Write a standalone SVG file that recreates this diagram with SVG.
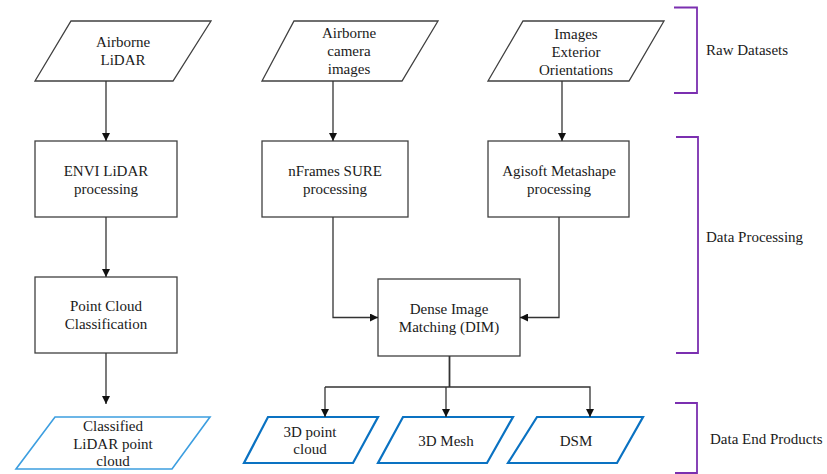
<svg xmlns="http://www.w3.org/2000/svg" width="827" height="474" viewBox="0 0 827 474">
<style>
  text { fill: #1a1a1a; text-anchor: middle; font-size: 15px; }
  .lbl { text-anchor: start; }
  .box { fill: #ffffff; stroke: #404040; stroke-width: 1.3; }
  .out1 { fill: #ffffff; stroke: #3c9ee0; stroke-width: 1.6; }
  .out2 { fill: #ffffff; stroke: #0a72c2; stroke-width: 2.2; }
  .con { fill: none; stroke: #333333; stroke-width: 1.3; }
  .br { fill: none; stroke: #7b2fb0; stroke-width: 1.8; }
</style>
<defs>
  <marker id="ah" markerUnits="userSpaceOnUse" markerWidth="8" markerHeight="8" viewBox="0 0 8 8" refX="8" refY="4" orient="auto">
    <path d="M0,0 L8,4 L0,8 Z" fill="#111111"/>
  </marker>
</defs>

<g id="raw-lidar">
  <polygon class="box" points="71,21 211,21 173,81 35,81"/>
  <text style="font-family:'Liberation Serif',serif !important" x="123" y="47">Airborne</text>
  <text style="font-family:'Liberation Serif',serif !important" x="123" y="65">LiDAR</text>
</g>
<g id="raw-camera">
  <polygon class="box" points="294,21 438,21 402,81 262,81"/>
  <text style="font-family:'Liberation Serif',serif !important" x="349" y="38">Airborne</text>
  <text style="font-family:'Liberation Serif',serif !important" x="349" y="56">camera</text>
  <text style="font-family:'Liberation Serif',serif !important" x="349" y="74">images</text>
</g>
<g id="raw-eo">
  <polygon class="box" points="523,21 664,21 629,81 488,81"/>
  <text style="font-family:'Liberation Serif',serif !important" x="576" y="39">Images</text>
  <text style="font-family:'Liberation Serif',serif !important" x="576" y="57">Exterior</text>
  <text style="font-family:'Liberation Serif',serif !important" x="576" y="75">Orientations</text>
</g>

<g id="envi">
  <rect class="box" x="35" y="141" width="142" height="76"/>
  <text style="font-family:'Liberation Serif',serif !important" x="106" y="176">ENVI LiDAR</text>
  <text style="font-family:'Liberation Serif',serif !important" x="106" y="194">processing</text>
</g>
<g id="sure">
  <rect class="box" x="262" y="141" width="146" height="76"/>
  <text style="font-family:'Liberation Serif',serif !important" x="335" y="176">nFrames SURE</text>
  <text style="font-family:'Liberation Serif',serif !important" x="335" y="194">processing</text>
</g>
<g id="metashape">
  <rect class="box" x="488" y="141" width="141" height="76"/>
  <text style="font-family:'Liberation Serif',serif !important" x="559" y="176">Agisoft Metashape</text>
  <text style="font-family:'Liberation Serif',serif !important" x="559" y="194">processing</text>
</g>

<g id="classification">
  <rect class="box" x="35" y="277" width="142" height="76"/>
  <text style="font-family:'Liberation Serif',serif !important" x="106" y="311">Point Cloud</text>
  <text style="font-family:'Liberation Serif',serif !important" x="106" y="329">Classification</text>
</g>
<g id="dim">
  <rect class="box" x="378" y="279" width="142" height="77"/>
  <text style="font-family:'Liberation Serif',serif !important" x="449" y="314">Dense Image</text>
  <text style="font-family:'Liberation Serif',serif !important" x="449" y="332">Matching (DIM)</text>
</g>

<g id="out-lidar">
  <polygon class="out1" points="55,417 210,417 172,469 16,469"/>
  <text style="font-family:'Liberation Serif',serif !important" x="113" y="431">Classified</text>
  <text style="font-family:'Liberation Serif',serif !important" x="113" y="449">LiDAR point</text>
  <text style="font-family:'Liberation Serif',serif !important" x="113" y="466">cloud</text>
</g>
<g id="out-pointcloud">
  <polygon class="out2" points="268,417 378,417 353,463 244,463"/>
  <text style="font-family:'Liberation Serif',serif !important" x="310" y="437">3D point</text>
  <text style="font-family:'Liberation Serif',serif !important" x="310" y="454">cloud</text>
</g>
<g id="out-mesh">
  <polygon class="out2" points="403,417 513,417 487,463 378,463"/>
  <text style="font-family:'Liberation Serif',serif !important" x="446" y="446">3D Mesh</text>
</g>
<g id="out-dsm">
  <polygon class="out2" points="537,417 643,417 617,463 508,463"/>
  <text style="font-family:'Liberation Serif',serif !important" x="576" y="446">DSM</text>
</g>

<g id="connectors">
  <line class="con" x1="106" y1="81" x2="106" y2="141" marker-end="url(#ah)"/>
  <line class="con" x1="333" y1="81" x2="333" y2="141" marker-end="url(#ah)"/>
  <line class="con" x1="562" y1="81" x2="562" y2="141" marker-end="url(#ah)"/>
  <line class="con" x1="106" y1="217" x2="106" y2="277" marker-end="url(#ah)"/>
  <line class="con" x1="106" y1="353" x2="106" y2="404" marker-end="url(#ah)"/>
  <polyline class="con" points="333,217 333,317.5 378,317.5" marker-end="url(#ah)"/>
  <polyline class="con" points="559,217 559,317.5 520,317.5" marker-end="url(#ah)"/>
  <line class="con" x1="449.5" y1="356" x2="449.5" y2="387" style="stroke-width:1.8"/>
  <polyline class="con" points="325,387 590,387 590,417" marker-end="url(#ah)"/>
  <line class="con" x1="325" y1="387" x2="325" y2="417" marker-end="url(#ah)"/>
  <line class="con" x1="446" y1="387" x2="446" y2="417" marker-end="url(#ah)"/>
</g>

<g id="stage-raw">
  <polyline class="br" points="674,7.5 697,7.5 697,93 674,93"/>
  <text style="font-family:'Liberation Serif',serif !important" class="lbl" x="706" y="55">Raw Datasets</text>
</g>
<g id="stage-processing">
  <polyline class="br" points="676,137 698,137 698,353 676,353"/>
  <text style="font-family:'Liberation Serif',serif !important" class="lbl" x="706" y="242">Data Processing</text>
</g>
<g id="stage-products">
  <polyline class="br" points="675,403 697,403 697,473 675,473"/>
  <text style="font-family:'Liberation Serif',serif !important" class="lbl" x="710" y="444">Data End Products</text>
</g>
</svg>
